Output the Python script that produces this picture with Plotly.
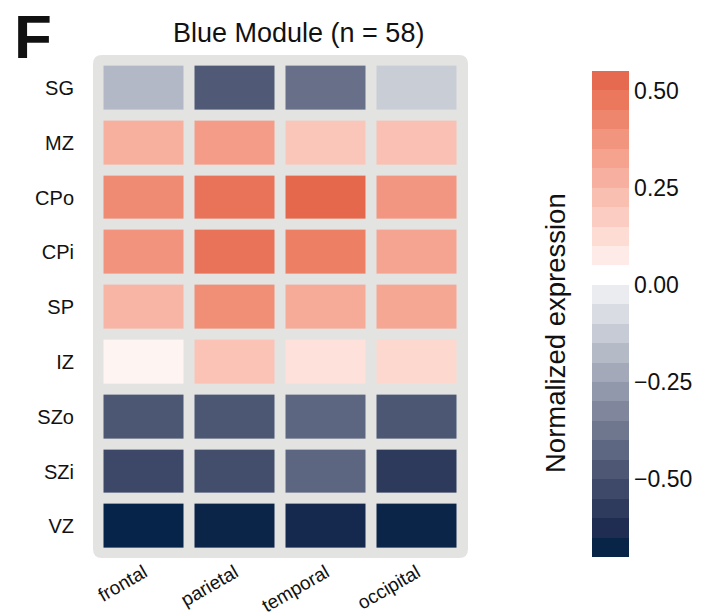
import plotly.graph_objects as go

# ---------------- data ----------------
regions = ["frontal", "parietal", "temporal", "occipital"]
layers = ["SG", "MZ", "CPo", "CPi", "SP", "IZ", "SZo", "SZi", "VZ"]
sg = [-0.18, -0.47, -0.40, -0.12]
mz = [0.28, 0.35, 0.20, 0.22]
cpo = [0.41, 0.49, 0.53, 0.37]
cpi = [0.38, 0.49, 0.45, 0.32]
sp = [0.26, 0.40, 0.30, 0.31]
iz = [0.04, 0.21, 0.11, 0.14]
szo = [-0.48, -0.48, -0.43, -0.48]
szi = [-0.53, -0.51, -0.43, -0.58]
vz = [-0.69, -0.67, -0.65, -0.67]
values = [sg, mz, cpo, cpi, sp, iz, szo, szi, vz]

cbar_ticks = [-0.50, -0.25, 0.0, 0.25, 0.50]
cbar_ticktext = ["\u22120.50", "\u22120.25", "0.00", "0.25", "0.50"]
vmin, vmax, step = -0.70, 0.55, 0.05
title_text = "Blue Module (n = 58)"
cbar_title = "Normalized expression"
panel_letter = "F"

# ---------------- styles ----------------
neg_colors = ["#ebecf0", "#d9dce3", "#c7cbd5", "#b5bac7", "#a3a9b9", "#9198ab", "#80879d",
              "#6f778f", "#5e6782", "#4e5875", "#3e4969", "#2f3b5d", "#1f2d52", "#082447"]  # 0 -> -0.70
pos_colors = ["#feebe7", "#fddcd4", "#fbcdc2", "#f9bfb1", "#f7b0a0", "#f5a38f", "#f2957f",
              "#ee866d", "#eb775c", "#e66a4f"]  # 0.05 -> 0.55
FONT = "Liberation Sans, Arial, Helvetica, sans-serif"
TXT = "#111111"
BG = "#e3e3e1"

W, H = 705, 613
L, R, T, B = 93, 468, 55, 558  # plot area in px
pw, ph = R - L, B - T

def t_of(v):
    return (v - vmin) / (vmax - vmin)

# discrete colorscale for colorbar
bands = []  # (lo, hi, color)
for i, c in enumerate(neg_colors):
    bands.append((-step * (i + 1), -step * i, c))
bands.append((0.0, step, "#ffffff"))
for i, c in enumerate(pos_colors):
    lo = step * (i + 1)
    bands.append((lo, lo + step, c))
bands.sort(key=lambda b: b[0])
disc = []
for lo, hi, c in bands:
    disc.append([max(0.0, min(1.0, t_of(lo))), c])
    disc.append([max(0.0, min(1.0, t_of(hi))), c])
disc[0][0] = 0.0
disc[-1][0] = 1.0

# continuous colorscale for cells
cont = [[0.0, "#04234a"]]
for lo, hi, c in bands:
    if c == "#ffffff":
        cont.append([t_of(0.0), "#ffffff"])
        continue
    cont.append([t_of((lo + hi) / 2), c])
cont.append([1.0, "#e3603f"])
cont.sort(key=lambda p: p[0])

# axis ranges so that cells land on reference pixels
col_pitch = 91.0
row_pitch = 54.8
col0_center = 144.0
row0_center = 88.0
x0 = 0 - (col0_center - L) / col_pitch
x1 = x0 + pw / col_pitch
y0 = 0 - (row0_center - T) / row_pitch
y1 = y0 + ph / row_pitch

def px(xp):
    return (xp - L) / pw

def py(yp):
    return (B - yp) / ph

fig = go.Figure()
fig.add_trace(go.Heatmap(
    z=values, x=list(range(len(regions))), y=list(range(len(layers))),
    colorscale=cont, zmin=vmin, zmax=vmax, xgap=11, ygap=11,
    showscale=False, hoverinfo="skip",
))
# dummy trace carrying the stepped colorbar
flat = [v for row in values for v in row]
fig.add_trace(go.Scatter(
    x=[j for i in range(len(layers)) for j in range(len(regions))],
    y=[i for i in range(len(layers)) for j in range(len(regions))],
    mode="markers",
    marker=dict(color=flat, colorscale=disc, cmin=vmin, cmax=vmax, size=1, opacity=0,
                showscale=True,
                colorbar=dict(
                    xref="paper", yref="paper",
                    x=px(592), xanchor="left", y=py(557), yanchor="bottom",
                    len=486, lenmode="pixels", thickness=37, thicknessmode="pixels",
                    xpad=0, ypad=0, outlinewidth=0, ticks="",
                    tickvals=cbar_ticks, ticktext=cbar_ticktext,
                    tickfont=dict(family=FONT, size=23, color=TXT),
                )),
    hoverinfo="skip", showlegend=False,
))

# rounded grey background
r = 9
rx, ry = r / pw, r / ph
path = (f"M {rx},0 L {1-rx},0 Q 1,0 1,{ry} L 1,{1-ry} Q 1,1 {1-rx},1 "
        f"L {rx},1 Q 0,1 0,{1-ry} L 0,{ry} Q 0,0 {rx},0 Z")
fig.add_shape(type="path", path=path, xref="paper", yref="paper",
              fillcolor=BG, line=dict(width=0), layer="below")

fig.add_annotation(text=title_text, x=px(298), y=py(33), xref="paper", yref="paper",
                   showarrow=False, xanchor="center", yanchor="middle",
                   font=dict(family=FONT, size=27, color=TXT))
fig.add_annotation(text=f"<b>{panel_letter}</b>", x=px(33), y=py(36), xref="paper", yref="paper",
                   showarrow=False, xanchor="center", yanchor="middle",
                   font=dict(family=FONT, size=62, color=TXT))
fig.add_annotation(text=cbar_title, x=px(555), y=py(333), xref="paper", yref="paper",
                   showarrow=False, textangle=-90, xanchor="center", yanchor="middle",
                   font=dict(family=FONT, size=27.5, color=TXT))

fig.update_xaxes(range=[x0, x1], tickvals=list(range(len(regions))), ticktext=regions,
                 tickangle=-30, showgrid=False, zeroline=False, showline=False, ticks="",
                 ticklabelstandoff=-1, automargin=False,
                 tickfont=dict(family=FONT, size=19, color=TXT))
fig.update_yaxes(range=[y1, y0], tickvals=list(range(len(layers))), ticktext=layers,
                 showgrid=False, zeroline=False, showline=False, ticks="",
                 ticklabelstandoff=18, automargin=False,
                 tickfont=dict(family=FONT, size=20, color=TXT))
fig.update_layout(width=W, height=H,
                  margin=dict(l=L, r=W - R, t=T, b=H - B, autoexpand=False),
                  paper_bgcolor="white", plot_bgcolor="rgba(0,0,0,0)",
                  showlegend=False)
fig.write_html("out.html")
